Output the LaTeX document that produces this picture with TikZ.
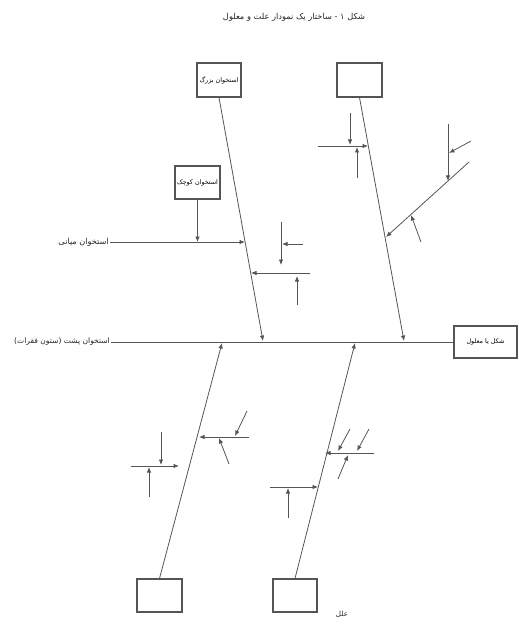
\documentclass[tikz,border=0pt]{standalone}
\usepackage{fontspec}
\newfontfamily\arabicfont[Script=Arabic]{DejaVu Sans}
\newfontfamily\plainfont{DejaVu Sans}
\TeXXeTstate=1
\usetikzlibrary{arrows.meta}
\definecolor{ln}{HTML}{555555}
\tikzset{
  bone/.style={draw=ln, line width=0.8bp},
  arr/.style={bone, -{Latex[length=5.5bp,width=4.5bp]}},
  lbox/.style={draw=ln, line width=1.1bp, fill=white, inner sep=0pt, font=\arabicfont\fontsize{6.4}{7}\selectfont},
  lbl/.style={inner sep=1bp, font=\arabicfont\fontsize{7.2}{8}\selectfont, text=black!85}
}
\begin{document}
\begin{tikzpicture}[x=1bp,y=-1bp]
\useasboundingbox (0,0) rectangle (519,626);
% title
\node[lbl, font=\arabicfont\fontsize{8.3}{9}\selectfont] (title) at (294,17) {\beginR شکل ۱ - ساختار یک نمودار علت و معلول\endR};
% boxes
\node[lbox, minimum width=44bp, minimum height=34bp] (big) at (219,80) {\beginR استخوان بزرگ\endR};
\node[lbox, minimum width=45bp, minimum height=34bp] (tr) at (359.5,80) {};
\node[lbox, minimum width=45bp, minimum height=33bp] (small) at (197.5,182.5) {\beginR استخوان کوچک\endR};
\node[lbox, minimum width=63bp, minimum height=32bp] (effect) at (485.5,342) {\beginR شکل یا معلول\endR};
\node[lbox, minimum width=45bp, minimum height=33bp] (bl) at (159.5,595.5) {};
\node[lbox, minimum width=44bp, minimum height=33bp] (br) at (295,595.5) {};
% labels
\node[lbl, anchor=east, font=\arabicfont\fontsize{7.6}{8}\selectfont] (spinel) at (111,342) {{\plainfont(}\beginR ستون فقرات\endR{\plainfont)} \beginR استخوان پشت\endR};
\node[lbl, anchor=east, font=\arabicfont\fontsize{8.2}{9}\selectfont] (midl) at (110,242) {\beginR استخوان میانی\endR};
\node[lbl] (causes) at (342,614) {\beginR علل\endR};
% spine
\draw[bone] (spinel.east) -- (effect.west);
% main bones
\coordinate (t1) at (263,341);
\coordinate (t2) at (404,341);
\coordinate (t3) at (222,343);
\coordinate (t4) at (355,343);
\draw[arr] (big.south) -- (t1);
\draw[arr] (tr.south) -- (t2);
\draw[arr] (bl.north) -- (t3);
\draw[arr] (br.north) -- (t4);
% medium bone
\coordinate (m1) at (245,242);
\draw[arr] (midl.east) -- (m1);
\coordinate (m2) at (197.5,242);
\draw[arr] (small.south) -- (m2);
% right of big bone
\draw[arr] (303,244) -- (282,244);
\draw[arr] (281,222) -- (281,265);
\draw[arr] (310,273) -- (251,273);
\draw[arr] (297,305) -- (297,276);
% top right bone
\draw[arr] (318,146) -- (368,146);
\draw[arr] (350,113) -- (350,145);
\draw[arr] (357,178) -- (357,147);
\draw[arr] (469,162) -- (386,237);
\draw[arr] (448,124) -- (448,181);
\draw[arr] (471,141) -- (449,153);
\draw[arr] (421,242) -- (411,215);
% lower left bone
\draw[arr] (249,437) -- (199,437);
\draw[arr] (247,411) -- (235,436);
\draw[arr] (229,464) -- (219,438);
\draw[arr] (131,466) -- (179,466);
\draw[arr] (161,432) -- (161,465);
\draw[arr] (149,497) -- (149,467);
% lower right bone
\draw[arr] (270,487) -- (318,487);
\draw[arr] (288,518) -- (288,488);
\draw[arr] (374,453) -- (325,453);
\draw[arr] (350,429) -- (338,451);
\draw[arr] (369,429) -- (357,451);
\draw[arr] (338,479) -- (348,455);
\end{tikzpicture}
\end{document}
